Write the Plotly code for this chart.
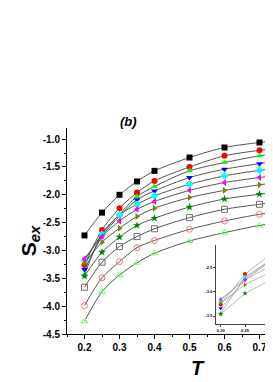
import plotly.graph_objects as go

T = [0.2, 0.25, 0.3, 0.35, 0.4, 0.5, 0.6, 0.7, 0.8]

s_black   = [-2.73, -2.32, -2.00, -1.76, -1.57, -1.33, -1.15, -1.06, -0.99]
s_red     = [-3.26, -2.63, -2.24, -1.96, -1.75, -1.50, -1.30, -1.20, -1.12]
s_green   = [-3.44, -2.70, -2.35, -2.03, -1.85, -1.57, -1.42, -1.30, -1.21]
s_blue    = [-3.34, -2.75, -2.38, -2.09, -1.93, -1.69, -1.54, -1.44, -1.35]
s_cyan    = [-3.18, -2.71, -2.36, -2.17, -2.02, -1.81, -1.66, -1.56, -1.48]
s_magenta = [-3.15, -2.75, -2.47, -2.26, -2.12, -1.92, -1.78, -1.69, -1.61]
s_olive   = [-3.23, -2.85, -2.60, -2.39, -2.24, -2.05, -1.92, -1.82, -1.74]
s_star    = [-3.46, -3.03, -2.76, -2.55, -2.42, -2.22, -2.075, -1.99, -1.91]
s_gray    = [-3.66, -3.21, -2.93, -2.75, -2.61, -2.41, -2.26, -2.17, -2.09]
s_pink    = [-3.99, -3.49, -3.20, -2.95, -2.82, -2.62, -2.47, -2.35, -2.27]
s_lgreen  = [-4.27, -3.74, -3.44, -3.22, -3.05, -2.83, -2.68, -2.55, -2.47]

x_ticks = [0.2, 0.3, 0.4, 0.5, 0.6, 0.7]
x_ticklabels = ["0.2", "0.3", "0.4", "0.5", "0.6", "0.7"]
y_ticks = [-1.0, -1.5, -2.0, -2.5, -3.0, -3.5, -4.0, -4.5]
y_ticklabels = ["-1.0", "-1.5", "-2.0", "-2.5", "-3.0", "-3.5", "-4.0", "-4.5"]
ix_ticks = [0.20, 0.25, 0.30]
ix_ticklabels = ["0.20", "0.25", "0.30"]
iy_ticks = [-2.5, -3.0, -3.5]
iy_ticklabels = ["-2.5", "-3.0", "-3.5"]

series = [
    (s_black, "square", "black"),
    (s_red, "circle", "red"),
    (s_green, "triangle-up", "#00ff00"),
    (s_blue, "triangle-down", "blue"),
    (s_cyan, "diamond", "cyan"),
    (s_magenta, "triangle-left", "magenta"),
    (s_olive, "triangle-right", "#808000"),
    (s_star, "star", "#008000"),
    (s_gray, "square-open", "#707070"),
    (s_pink, "circle-open", "#ff7070"),
    (s_lgreen, "triangle-up-open", "#66ff66"),
]
inset_idx = [1, 2, 3, 4, 5, 6, 7]

FONT = "Arial, Liberation Sans, sans-serif"

# The page body adds an 8px offset; positions below are in figure pixels.
OFF = 8
W, H = 273, 382
l, r, t, b = 67 - OFF, 0, 127.5 - OFF, H - (334 - OFF)
pw, ph = W - l - r, H - t - b
def px(xv): return (xv - OFF - l) / pw   # viewport px -> paper
def py(yv): return (H - b - (yv - OFF)) / ph

fig = go.Figure()

for vals, sym, col in series:
    fig.add_trace(go.Scatter(
        x=T, y=vals, mode="lines+markers",
        line=dict(color="#555555", width=1, shape="spline", smoothing=0.8),
        marker=dict(symbol=sym, size=6 if sym != "star" else 6, color=col,
                    line=dict(color=col, width=1 if "open" in sym else 0)),
        cliponaxis=True, showlegend=False, xaxis="x", yaxis="y"))

for i in inset_idx:
    vals, sym, col = series[i]
    fig.add_trace(go.Scatter(
        x=T, y=vals, mode="lines+markers",
        line=dict(color="#999999", width=0.7),
        marker=dict(symbol=sym, size=4 if sym != "star" else 4, color=col, line=dict(width=0)),
        cliponaxis=True, showlegend=False, xaxis="x2", yaxis="y2"))

axis_common = dict(showline=True, linecolor="black", linewidth=1, ticks="outside",
                   tickcolor="black", showgrid=False, zeroline=False, mirror=False)

x_left = 0.15
x_right = x_left + pw / 350.0

fig.update_layout(
    width=W, height=H,
    margin=dict(l=l, r=r, t=t, b=b),
    paper_bgcolor="white", plot_bgcolor="rgba(0,0,0,0)",
    font=dict(family=FONT, color="black"),
    xaxis=dict(range=[x_left, x_right], domain=[0, 1], tickvals=x_ticks, ticktext=x_ticklabels,
               ticklen=4, tickwidth=1,
               tickfont=dict(size=10, family=FONT, weight="bold"),
               minor=dict(ticks="outside", ticklen=2, tickvals=[0.15, 0.25, 0.35, 0.45, 0.55, 0.65, 0.75], tickcolor="black"),
               **axis_common),
    yaxis=dict(range=[-4.5, -0.8], domain=[0, 1], tickvals=y_ticks, ticktext=y_ticklabels,
               ticklen=4, tickwidth=1,
               tickfont=dict(size=10, family=FONT, weight="bold"),
               minor=dict(ticks="outside", ticklen=2, tickvals=[-1.25, -1.75, -2.25, -2.75, -3.25, -3.75, -4.25], tickcolor="black"),
               **axis_common),
    xaxis2=dict(range=[0.1903, 0.1903 + (281 - 216) / 486.0], domain=[px(216), 1.0], anchor="y2",
                tickvals=ix_ticks, ticktext=ix_ticklabels, ticklen=2, tickwidth=0.6,
                tickfont=dict(size=4, family=FONT, weight="bold"),
                showline=True, linecolor="#444", linewidth=0.7, ticks="outside", tickcolor="#444",
                showgrid=False, zeroline=False),
    yaxis2=dict(range=[-3.665, -2.031], domain=[py(324), py(245)], anchor="x2",
                tickvals=iy_ticks, ticktext=iy_ticklabels, ticklen=2, tickwidth=0.6,
                tickfont=dict(size=4, family=FONT, weight="bold"),
                showline=True, linecolor="#444", linewidth=0.7, ticks="outside", tickcolor="#444",
                showgrid=False, zeroline=False),
    annotations=[
        dict(text="<b><i>(b)</i></b>", x=px(128), y=py(121), xref="paper", yref="paper",
             xanchor="center", yanchor="middle",
             showarrow=False, font=dict(size=13, family=FONT)),
        dict(text="<b><i>T</i></b>", x=px(198), y=py(368), xref="paper", yref="paper",
             xanchor="center", yanchor="middle",
             showarrow=False, font=dict(size=20, family=FONT)),
        dict(text="<b>S</b><sub><b><i>ex</i></b></sub>", x=px(30), y=py(241), xref="paper", yref="paper",
             xanchor="center", yanchor="middle",
             showarrow=False, textangle=-90, font=dict(size=21, family=FONT)),
    ],
)

fig.write_html("out.html")
